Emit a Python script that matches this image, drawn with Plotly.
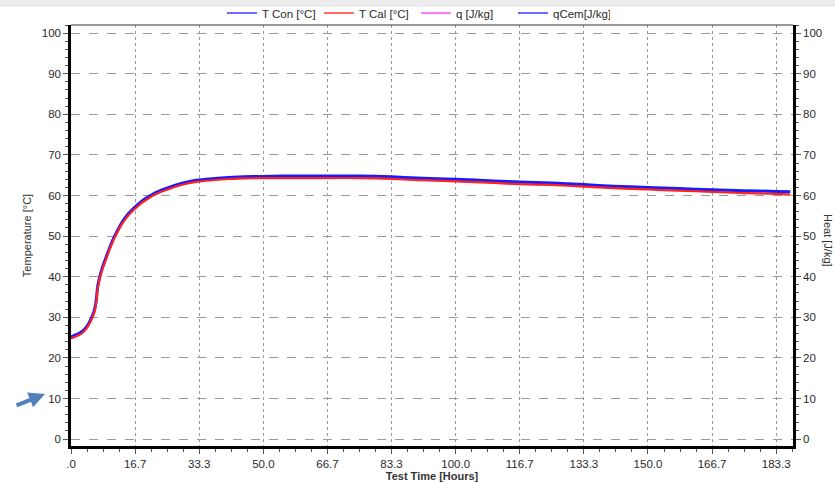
import plotly.graph_objects as go

# ---- data ----
hours = [0, 1, 2, 3, 4, 5, 6, 6.5, 7, 8, 9, 10, 11, 12, 13, 14, 15, 16.7, 18, 20, 22,
         24, 26, 28, 30, 33, 36, 40, 45, 50, 55, 60, 66.7, 75, 83.3, 90, 100, 110,
         116.7, 125, 133.3, 141, 150, 158, 166.7, 175, 183.3, 187]
t_con = [25.2, 25.6, 26.0, 26.6, 27.6, 29.2, 31.5, 33.8, 38.0, 41.8, 44.5, 47.0, 49.3,
         51.2, 53.0, 54.4, 55.6, 57.2, 58.3, 59.6, 60.7, 61.5, 62.2, 62.8, 63.3, 63.8,
         64.1, 64.4, 64.6, 64.7, 64.8, 64.8, 64.8, 64.8, 64.6, 64.3, 64.0, 63.6, 63.3,
         63.1, 62.7, 62.3, 62.0, 61.7, 61.4, 61.2, 61.0, 60.9]
t_cal = [24.8, 25.2, 25.6, 26.2, 27.2, 28.8, 31.0, 33.2, 37.4, 41.3, 44.0, 46.6, 48.9,
         50.8, 52.6, 54.0, 55.2, 56.8, 57.9, 59.2, 60.3, 61.1, 61.8, 62.4, 62.9, 63.4,
         63.7, 64.0, 64.2, 64.3, 64.3, 64.3, 64.3, 64.3, 64.1, 63.8, 63.5, 63.1, 62.8,
         62.6, 62.2, 61.8, 61.5, 61.2, 60.9, 60.6, 60.4, 60.2]
x_tickvals = [0, 16.667, 33.333, 50, 66.667, 83.333, 100, 116.667, 133.333, 150, 166.667, 183.333]
x_ticktext = [".0", "16.7", "33.3", "50.0", "66.7", "83.3", "100.0", "116.7", "133.3",
              "150.0", "166.7", "183.3"]
y_tickvals = [0, 10, 20, 30, 40, 50, 60, 70, 80, 90, 100]
legend_names = ["T Con [°C]", "T Cal [°C]", "q [J/kg]", "qCem[J/kg]"]
legend_colors = ["#3a3aff", "#ff3a3a", "#ff50ff", "#3a3aff"]

FONT = "Liberation Sans, Arial, sans-serif"
TICKC = "#2a2a2a"

# body margin removed via post_script -> figure coords equal page coords
W, H = 835, 484
L, T, R, B = 71, 25, 42, 38
PW, PH = W - L - R, H - T - B


def px(xpage):
    return (xpage - L) / PW


def py(ypage):
    return (H - B - ypage) / PH


fig = go.Figure()
fig.add_trace(go.Scatter(x=hours, y=t_con, mode="lines", name=legend_names[0], showlegend=False,
                         line=dict(color="#1a1aff", width=3.0, shape="spline", smoothing=0.6)))
fig.add_trace(go.Scatter(x=hours, y=t_cal, mode="lines", name=legend_names[1], showlegend=False,
                         line=dict(color="#ff2020", width=2.2, shape="spline", smoothing=0.6)))
for i, (nm, col) in enumerate(zip(legend_names, legend_colors)):
    fig.add_trace(go.Scatter(x=[None], y=[None], mode="lines", name=nm,
                             line=dict(color=col, width=1.5),
                             yaxis="y2" if i == 3 else "y"))

fig.update_layout(
    width=W, height=H,
    margin=dict(l=L, r=R, t=T, b=B, autoexpand=False),
    paper_bgcolor="white", plot_bgcolor="white",
    font=dict(family=FONT, size=11, color=TICKC),
    showlegend=True,
    legend=dict(orientation="h", x=px(222), xanchor="left",
                y=py(13), yanchor="middle",
                font=dict(size=11.5, color="#2a2a2a"), bgcolor="rgba(0,0,0,0)",
                itemwidth=30, traceorder="normal", entrywidth=52, tracegroupgap=0),
    xaxis=dict(range=[0, 187.7], tickmode="array", tickvals=x_tickvals, ticktext=x_ticktext,
               showline=True, linecolor="black", linewidth=2.5, mirror=False,
               ticks="outside", ticklen=5, tickcolor="#555", tickwidth=1,
               showgrid=True, gridcolor="#9a9a9a", griddash="dot", gridwidth=1.2,
               zeroline=False, tickfont=dict(size=11.5, color=TICKC, family=FONT),
               minor=dict(tick0=0, dtick=16.6667 / 4, ticklen=3, tickcolor="#555",
                          ticks="outside", showgrid=False),
               title=dict(text="<b>Test Time [Hours]</b>", font=dict(size=11, color="#333"),
                          standoff=1)),
    yaxis=dict(range=[-1.7, 102], tickmode="array", tickvals=y_tickvals,
               showline=True, linecolor="black", linewidth=2.5,
               ticks="outside", ticklen=5, tickcolor="#555",
               showgrid=True, gridcolor="#9a9a9a", griddash="dash", gridwidth=1.2,
               zeroline=False, tickfont=dict(size=11.5, color=TICKC, family=FONT),
               minor=dict(tick0=0, dtick=2, ticklen=3, tickcolor="#555", ticks="outside",
                          showgrid=False),
               title=dict(text="Temperature [°C]", font=dict(size=11, color="#333"),
                          standoff=8)),
    yaxis2=dict(range=[-1.7, 102], overlaying="y", side="right", tickmode="array",
                tickvals=y_tickvals, showline=True, linecolor="black", linewidth=2.5,
                ticks="outside", ticklen=5, tickcolor="#555", showgrid=False, zeroline=False,
                tickfont=dict(size=11.5, color=TICKC, family=FONT),
                minor=dict(tick0=0, dtick=2, ticklen=3, tickcolor="#555", ticks="outside")),
    shapes=[
        dict(type="rect", xref="paper", yref="paper", x0=px(0), x1=px(835),
             y0=py(7), y1=py(0), fillcolor="#ececec",
             line=dict(width=0), layer="below"),
        dict(type="line", xref="paper", yref="paper", x0=0, x1=1, y0=1, y1=1,
             line=dict(color="#777", width=1.5)),
    ],
    annotations=[
        dict(text="Heat [J/kg]", xref="paper", yref="paper", x=px(828), xanchor="center",
             y=py(240), showarrow=False, textangle=90,
             font=dict(size=11, color="#333", family=FONT)),
        dict(text="", xref="paper", yref="paper", x=px(45), y=py(394),
             ax=-30, ay=12, showarrow=True, arrowhead=2, arrowsize=0.8, arrowwidth=4,
             arrowcolor="#4f81bd"),
    ],
)

fig.write_html("out.html", config={"displayModeBar": False},
               post_script="document.body.style.margin='0';document.body.style.overflow='hidden';")
